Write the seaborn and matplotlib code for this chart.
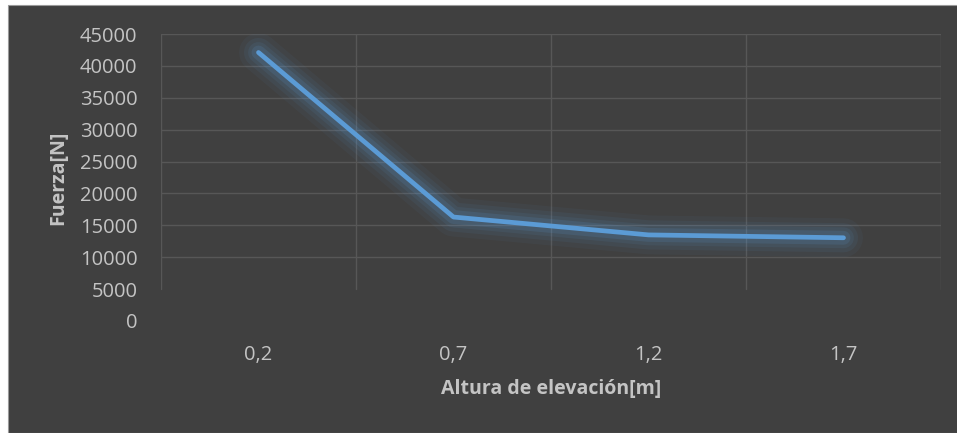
import matplotlib
matplotlib.use("agg")
import matplotlib.pyplot as plt
import matplotlib.patheffects as pe
from matplotlib.patches import Rectangle
import seaborn as sns
import pandas as pd

# data
alturas = ["0,2", "0,7", "1,2", "1,7"]
fuerza = [42100, 16300, 13500, 13050]
y_ticks = [0, 5000, 10000, 15000, 20000, 25000, 30000, 35000, 40000, 45000]

bg = "#404040"
grid_col = "#575757"
text_col = "#C4C4C4"
line_col = "#5B9BD5"

sns.set_theme(style="dark")
plt.rcParams["font.family"] = ["Open Sans", "DejaVu Sans"]

df = pd.DataFrame({"altura": alturas, "fuerza": fuerza})

fig = plt.figure(figsize=(9.57, 4.33), dpi=100)
fig.patch.set_facecolor("white")
fig.patches.append(Rectangle((8 / 957, 0), 1, 1 - 5 / 433, transform=fig.transFigure,
                             facecolor=bg, edgecolor="#9a9a9a", linewidth=0.8, zorder=-10))

ax = fig.add_axes([161 / 957, 1 - 321 / 433, 780 / 957, 287 / 433])
ax.set_facecolor(bg)
ax.set_zorder(5)

# grid (the reference fades out below 5000)
for yv in y_ticks[2:]:
    ax.axhline(yv, color=grid_col, lw=1.0, zorder=1)
for xv in [-0.5, 0.5, 1.5, 2.5, 3.5]:
    ax.plot([xv, xv], [5000, 45000], color=grid_col, lw=1.0, zorder=1)

# soft glow around the line
glow = [pe.Stroke(linewidth=w, foreground=line_col, alpha=a) for w, a in
        [(28, 0.05), (21, 0.07), (15, 0.09), (10, 0.14)]]
sns.lineplot(data=df, x="altura", y="fuerza", ax=ax, color=line_col, linewidth=3.4,
             sort=False, zorder=3)
ax.lines[-1].set_path_effects(glow + [pe.Normal()])
ax.lines[-1].set_solid_capstyle("round")

ax.set_xlim(-0.5, 3.5)
ax.set_ylim(0, 45000)
ax.set_yticks(y_ticks)
ax.set_yticklabels([str(v) for v in y_ticks])
ax.tick_params(axis="both", length=0, colors=text_col, labelsize=14.5)
ax.tick_params(axis="y", pad=17)
ax.tick_params(axis="x", pad=17)
ax.grid(False)
for s in ax.spines.values():
    s.set_visible(False)

ax.set_xlabel("Altura de elevación[m]", color=text_col, fontsize=14, fontweight="bold", labelpad=10)
ax.set_ylabel("Fuerza[N]", color=text_col, fontsize=14, fontweight="bold", labelpad=8)

fig.savefig("out.png", dpi=100, facecolor=fig.get_facecolor())
